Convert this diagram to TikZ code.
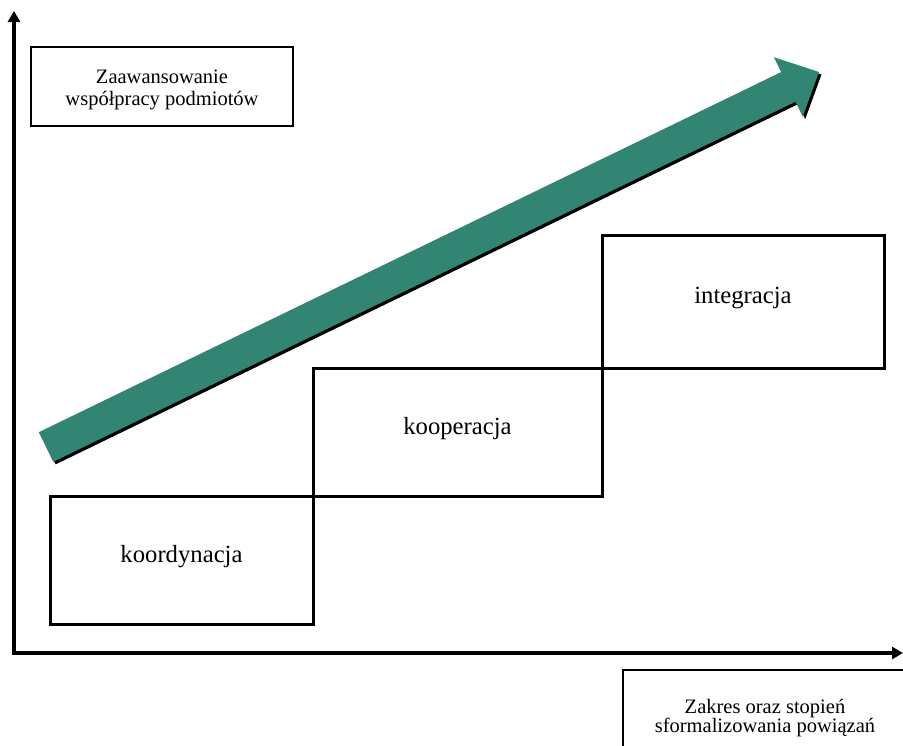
\documentclass[tikz,border=0pt]{standalone}
\usepackage{fontspec}
\setmainfont{Liberation Serif}
\usetikzlibrary{arrows.meta}
\definecolor{arrowgreen}{RGB}{51,133,115}
\tikzset{
  stepbox/.style={draw=black, line width=3pt, rectangle, inner sep=0pt},
  axisbox/.style={draw=black, line width=1.8pt, rectangle, inner sep=0pt},
  steplabel/.style={font=\fontsize{24.7}{28}\selectfont, inner sep=0pt},
  axislabel/.style={font=\fontsize{20.5}{22}\selectfont, align=center, inner sep=0pt},
  axisline/.style={line width=3.2pt, -{Triangle[length=11pt,width=12pt]}},
}
\begin{document}
\begin{tikzpicture}[x=1pt,y=-1pt]
\useasboundingbox (0,0) rectangle (903,745);
\clip (0,0) rectangle (903,745);

% axes
\coordinate (origin) at (14,653);
\coordinate (ytip) at (14,11);
\coordinate (xtip) at (903,653);
\draw[axisline] (origin) -- (ytip);
\draw[axisline] ([xshift=-1.6pt]origin) -- (xtip);

% axis descriptions
\node[axisbox, minimum width=262pt, minimum height=79pt] (ybox) at (162,86.5) {};
\node[axislabel] (ytext) at (162,90) {Zaawansowanie\\współpracy podmiotów};
\node[axisbox, line width=2.2pt, minimum width=286pt, minimum height=110pt] (xbox) at (766,725) {};
\node[axislabel, font=\fontsize{20.5}{18.5}\selectfont] (xtext) at (765,718) {Zakres oraz stopień\\sformalizowania powiązań};

% rising arrow with its drop shadow
\fill[black] ([shift={(2.5,2.5)}]38.8,432.2) -- ++(742.3,-360.1) -- ++(-7.2,-14.9) -- ++(45.1,14.8)
  -- ++(-16.3,44.6) -- ++(-7.2,-14.9) -- ++(-742.3,360.1) -- cycle;
\fill[arrowgreen] (38.8,432.2) -- (781.1,72.1) -- (773.9,57.2) -- (819,72)
  -- (802.7,116.6) -- (795.5,101.7) -- (53.2,461.8) -- cycle;

% stages
\node[stepbox, minimum width=263pt, minimum height=128pt] (koord) at (181.5,560) {};
\node[stepbox, minimum width=289pt, minimum height=128pt] (koop) at (457.5,432) {};
\node[stepbox, minimum width=282pt, minimum height=133pt] (integ) at (743,301.5) {};
\node[steplabel, anchor=base] (koordtext) at ([yshift=-2pt]koord.center) {koordynacja};
\node[steplabel, anchor=base] (kooptext) at ([yshift=-2pt]koop.center) {kooperacja};
\node[steplabel, anchor=base] (integtext) at ([yshift=-1.5pt]integ.center) {integracja};
\end{tikzpicture}
\end{document}
